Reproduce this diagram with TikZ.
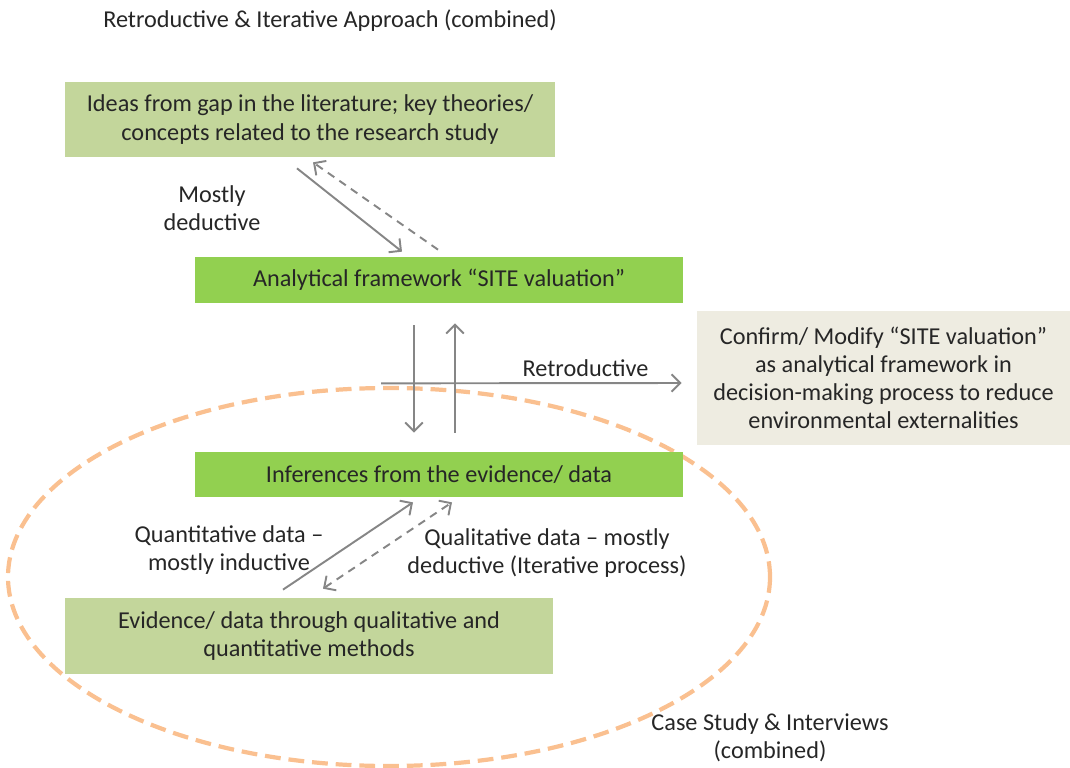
\documentclass[tikz,border=0pt]{standalone}
\usepackage{fontspec}
\setmainfont{Carlito}
\usepackage{xcolor}
\usepackage{tikz}
\usetikzlibrary{positioning, arrows.meta, calc}

\definecolor{oliveLight}{HTML}{C3D69B}
\definecolor{leafGreen}{HTML}{92D050}
\definecolor{paperBeige}{HTML}{EEECE1}
\definecolor{caseOrange}{HTML}{FAC090}
\definecolor{arrowGray}{HTML}{868686}
\definecolor{inkGray}{HTML}{262626}

\begin{document}
\begin{tikzpicture}[x=0.02cm, y=-0.02cm,
    font=\fontsize{13.8pt}{16pt}\selectfont, text=inkGray,
    theorybox/.style={rectangle, fill=oliveLight, align=center, inner sep=0pt},
    framebox/.style={rectangle, fill=leafGreen, align=center, inner sep=0pt},
    arr/.style={draw=arrowGray, line width=1.1pt, -{Straight Barb[length=5pt, width=10pt]}},
    dasharr/.style={arr, dash pattern=on 4.5pt off 3.5pt},
    lbl/.style={align=center, inner sep=0pt}]
    \useasboundingbox (0,0) rectangle (1070,767);

    % Case study region
    \draw[caseOrange, line width=2.4pt, dash pattern=on 9pt off 4.5pt] (389,577) ellipse [x radius=381, y radius=189];

    % Boxes
    \node[theorybox, minimum width=9.8cm, minimum height=1.5cm] (ideas) at (310,119.5)
        {Ideas from gap in the literature; key theories/\\concepts related to the research study};
    \node[framebox, minimum width=9.76cm, minimum height=0.92cm] (frame) at (439,280)
        {Analytical framework \textquotedblleft SITE valuation\textquotedblright};
    \node[framebox, minimum width=9.76cm, minimum height=0.9cm] (infer) at (439,474.5)
        {Inferences from the evidence/ data};
    \node[theorybox, minimum width=9.76cm, minimum height=1.52cm] (evid) at (309,636)
        {Evidence/ data through qualitative and\\quantitative methods};
    \node[rectangle, fill=paperBeige, align=center, inner sep=0pt, minimum width=7.46cm, minimum height=2.68cm] (confirm) at (883.5,378)
        {Confirm/ Modify \textquotedblleft SITE valuation\textquotedblright\\as analytical framework in\\decision-making process to reduce\\environmental externalities};

    % Titles
    \node[lbl] (title) at (330,21) {Retroductive \& Iterative Approach (combined)};
    \node[lbl] (casetitle) at (770,738) {Case Study \& Interviews\\(combined)};

    % Theory <-> framework
    \draw[arr] ([shift={(-13,11)}]ideas.south) -- ([shift={(-37,-5)}]frame.north);
    \draw[dasharr] ([shift={(-1,-7)}]frame.north) -- ([shift={(3,5)}]ideas.south);
    \node[lbl] (deduct) at (212,208) {Mostly\\deductive};

    % Framework <-> inferences
    \draw[arr] ([shift={(-25,22)}]frame.south) -- ([shift={(-25,-19)}]infer.north);
    \draw[arr] ([shift={(16,-19)}]infer.north) -- ([shift={(16,20)}]frame.south);
    \draw[arr] ([shift={(-58,80)}]frame.south) -- ([shift={(-15,5)}]confirm.west)
        node[pos=0.68, above=3pt, inner sep=0pt] {Retroductive};

    % Evidence <-> inferences
    \draw[arr] ([shift={(-26,-8)}]evid.north) -- ([shift={(-26,5)}]infer.south);
    \draw[dasharr, {Straight Barb[length=5pt, width=10pt]}-{Straight Barb[length=5pt, width=10pt]}] ([shift={(14,-9)}]evid.north) -- ([shift={(13,5)}]infer.south);
    \node[lbl] (quant) at (229,550) {Quantitative data --\\mostly inductive};
    \node[lbl] (qual) at (547,553) {Qualitative data -- mostly\\deductive (Iterative process)};

\end{tikzpicture}
\end{document}
